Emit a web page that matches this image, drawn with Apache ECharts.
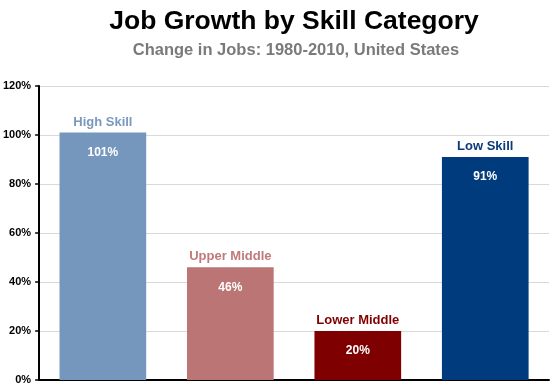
<!DOCTYPE html>
<html><head><meta charset="utf-8">
<script src="https://cdn.jsdelivr.net/npm/echarts@6/dist/echarts.min.js"></script>
<style>html,body{margin:0;padding:0;background:#fff}#c{width:550px;height:386px}</style>
</head><body><div id="c"></div>
<script>
var categories = ['High Skill', 'Upper Middle', 'Lower Middle', 'Low Skill'];
var values = [101, 46, 20, 91];
var yTicks = [0, 20, 40, 60, 80, 100, 120];

var barColors = ['#7597bd', '#bb7574', '#7f0000', '#003b7d'];
var nameColors = ['#7a98be', '#c07a79', '#800000', '#0b3b79'];

var chart = echarts.init(document.getElementById('c'));
var font = '"Liberation Sans", Arial, sans-serif';
chart.setOption({
  animation: false,
  title: [{
    text: 'Job Growth by Skill Category', left: 289, textAlign: 'center', top: 3,
    textStyle: {fontFamily: font, fontWeight: 'bold', fontSize: 26.5, color: '#000'}
  }, {
    text: 'Change in Jobs: 1980-2010, United States', left: 291, textAlign: 'center', top: 37,
    textStyle: {fontFamily: font, fontWeight: 'bold', fontSize: 16.5, color: '#7a7a7a'}
  }],
  grid: {left: 39, right: 1, top: 86, bottom: 6, containLabel: false},
  xAxis: {
    type: 'category', data: categories,
    axisLine: {lineStyle: {color: '#000', width: 2}},
    axisTick: {show: false}, axisLabel: {show: false}
  },
  yAxis: {
    type: 'value', min: yTicks[0], max: yTicks[yTicks.length - 1], interval: 20,
    axisLine: {show: true, lineStyle: {color: '#000', width: 2}},
    axisTick: {show: true, length: 4, lineStyle: {color: '#000', width: 1.5}},
    axisLabel: {formatter: '{value}%', fontFamily: font, fontWeight: 'bold', fontSize: 11, color: '#000', margin: 8},
    splitLine: {lineStyle: {color: '#d9d9d9', width: 1}}
  },
  series: [{
    type: 'bar', barWidth: '68%',
    data: values.map(function (v, i) {
      return {value: v, itemStyle: {color: barColors[i]},
        label: {color: nameColors[i]}};
    }),
    label: {show: true, position: 'top', distance: 4,
      formatter: function (p) { return categories[p.dataIndex]; },
      fontFamily: font, fontWeight: 'bold', fontSize: 13}
  }, {
    type: 'bar', barWidth: '68%', barGap: '-100%',
    data: values,
    itemStyle: {color: 'rgba(0,0,0,0)'},
    label: {show: true, position: 'insideTop', distance: 14,
      formatter: '{c}%', fontFamily: font, fontWeight: 'bold', fontSize: 12, color: '#fff'},
    z: 3
  }]
});
</script></body></html>
